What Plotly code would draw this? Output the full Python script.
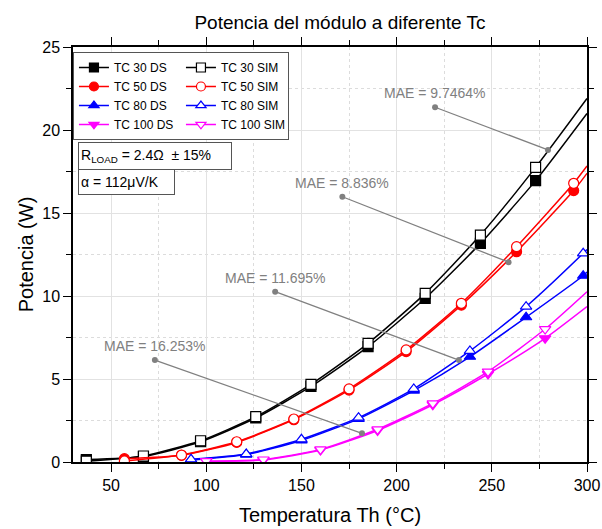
import plotly.graph_objects as go

# ---------------- data ----------------
TC30_X = [37, 67, 97, 126, 155, 185, 215, 244, 273, 300]
TC30_DS = [0.15, 0.33, 1.22, 2.65, 4.55, 6.95, 9.86, 13.17, 16.95, 21.0]
TC30_SIM = [0.05, 0.36, 1.28, 2.73, 4.68, 7.15, 10.16, 13.67, 17.75, 21.9]

TC50_X = [57, 87, 116, 146, 175, 205, 234, 263, 293, 300]
TC50_DS = [0.2, 0.4, 1.18, 2.55, 4.33, 6.65, 9.45, 12.67, 16.35, 17.39]
TC50_SIM = [0.06, 0.42, 1.22, 2.59, 4.40, 6.75, 9.56, 12.97, 16.79, 17.83]

TC80_X = [92, 121, 150, 180, 209, 238.5, 268, 298, 300]
TC80_DS = [0.12, 0.45, 1.30, 2.60, 4.30, 6.34, 8.72, 11.22, 11.45]
TC80_SIM = [0.16, 0.48, 1.37, 2.67, 4.40, 6.69, 9.36, 12.57, 12.8]

TC100_X = [100, 130, 160, 190, 219, 248, 278, 300]
TC100_DS = [0.05, 0.12, 0.72, 1.90, 3.45, 5.30, 7.45, 9.36]
TC100_SIM = [0.05, 0.15, 0.76, 1.97, 3.53, 5.44, 8.01, 10.26]

# MAE call-outs: label text, label anchor point and the point on the curve
MAE_TEXT = ["MAE = 9.7464%", "MAE = 8.836%", "MAE = 11.695%", "MAE = 16.253%"]
MAE_FROM_X = [220.2, 171.5, 136.2, 73.0]
MAE_FROM_Y = [21.37, 15.98, 10.26, 6.14]
MAE_TO_X = [279.5, 258.8, 232.7, 181.8]
MAE_TO_Y = [18.80, 12.04, 6.14, 1.73]

X_TICKS = [50, 100, 150, 200, 250, 300]
Y_TICKS = [0, 5, 10, 15, 20, 25]

SERIES = [
    ("TC 30 DS", TC30_X, TC30_DS, "#000000", "square", True),
    ("TC 30 SIM", TC30_X, TC30_SIM, "#000000", "square", False),
    ("TC 50 DS", TC50_X, TC50_DS, "#ff0000", "circle", True),
    ("TC 50 SIM", TC50_X, TC50_SIM, "#ff0000", "circle", False),
    ("TC 80 DS", TC80_X, TC80_DS, "#0000ff", "triangle-up", True),
    ("TC 80 SIM", TC80_X, TC80_SIM, "#0000ff", "triangle-up", False),
    ("TC 100 DS", TC100_X, TC100_DS, "#ff00ff", "triangle-down", True),
    ("TC 100 SIM", TC100_X, TC100_SIM, "#ff00ff", "triangle-down", False),
]

FONT = "Liberation Sans, Arial, sans-serif"
GRAY = "#808080"

W, H = 602, 529
ML, MR, MT, MB = 73, 15, 47, 67
PH = H - MT - MB

fig = go.Figure()

for name, xs, ys, color, symbol, filled in SERIES:
    # last point (x = 300) is only the end of the curve, no marker there
    sizes = [10] * (len(xs) - 1) + [0]
    fig.add_trace(go.Scatter(
        x=xs, y=ys, name=name, mode="lines+markers",
        line=dict(color=color, width=1.5, shape="spline", smoothing=0.6),
        marker=dict(symbol=symbol, size=sizes, opacity=1,
                    color=color if filled else "white",
                    line=dict(color=color, width=1.2)),
    ))

for i, txt in enumerate(MAE_TEXT):
    fig.add_trace(go.Scatter(
        x=[MAE_FROM_X[i], MAE_TO_X[i]], y=[MAE_FROM_Y[i], MAE_TO_Y[i]],
        mode="lines+markers", showlegend=False, hoverinfo="skip",
        line=dict(color=GRAY, width=1.3),
        marker=dict(color=GRAY, size=6),
    ))
    fig.add_annotation(
        x=MAE_FROM_X[i], y=MAE_FROM_Y[i], text=txt, showarrow=False,
        xanchor="center", yanchor="bottom", yshift=4,
        font=dict(family=FONT, size=14, color=GRAY),
    )

fig.add_annotation(
    xref="paper", yref="paper", x=0.0097, y=1 - (142 - MT) / PH,
    xanchor="left", yanchor="top", showarrow=False, align="left",
    text="R<sub>LOAD</sub> = 2.4Ω  ± 15%", width=148, height=22,
    font=dict(family=FONT, size=14, color="black"),
    bgcolor="white", bordercolor="#555555", borderwidth=1, borderpad=2,
)
fig.add_annotation(
    xref="paper", yref="paper", x=0.0097, y=1 - (169 - MT) / PH,
    xanchor="left", yanchor="top", showarrow=False, align="left",
    text="α = 112μV/K", width=91, height=20,
    font=dict(family=FONT, size=14, color="black"),
    bgcolor="white", bordercolor="#555555", borderwidth=1, borderpad=2,
)

axis_common = dict(
    showline=True, linecolor="black", linewidth=1.5, mirror="ticks",
    ticks="outside", ticklen=8, tickwidth=1.2, tickcolor="black",
    showgrid=True, gridcolor="#e2e2e2", gridwidth=1, zeroline=False,
    tickfont=dict(family=FONT, size=16, color="black"),
)

fig.update_xaxes(
    range=[30, 300], tickvals=X_TICKS,
    minor=dict(dtick=25, tick0=0, ticks="outside", ticklen=5, tickcolor="black",
               showgrid=True, gridcolor="#dcdcdc", griddash="dot"),
    title=dict(text="Temperatura Th (°C)", font=dict(family=FONT, size=20, color="black"), standoff=15),
    **axis_common,
)
fig.update_yaxes(
    range=[0, 25], tickvals=Y_TICKS,
    minor=dict(dtick=2.5, tick0=0, ticks="outside", ticklen=5, tickcolor="black",
               showgrid=True, gridcolor="#dcdcdc", griddash="dot"),
    title=dict(text="Potencia (W)", font=dict(family=FONT, size=20, color="black"), standoff=3),
    **axis_common,
)

fig.update_layout(
    width=W, height=H,
    margin=dict(l=ML, r=MR, t=MT, b=MB, autoexpand=False),
    paper_bgcolor="white", plot_bgcolor="white",
    title=dict(text="Potencia del módulo a diferente Tc", x=(340 / W), xanchor="center",
               y=1 - 22 / H, yanchor="middle", yref="container",
               font=dict(family=FONT, size=19, color="black")),
    legend=dict(orientation="h", x=-0.0001, xanchor="left", y=1 - 5 / PH, yanchor="top",
                entrywidth=62, bgcolor="white", bordercolor="#555555", borderwidth=1,
                font=dict(family=FONT, size=12, color="black"),
                itemwidth=30, tracegroupgap=0),
    showlegend=True,
)

fig.write_html("out.html", config={"displayModeBar": False},
               post_script="document.body.style.margin='0';document.body.style.padding='0';")
